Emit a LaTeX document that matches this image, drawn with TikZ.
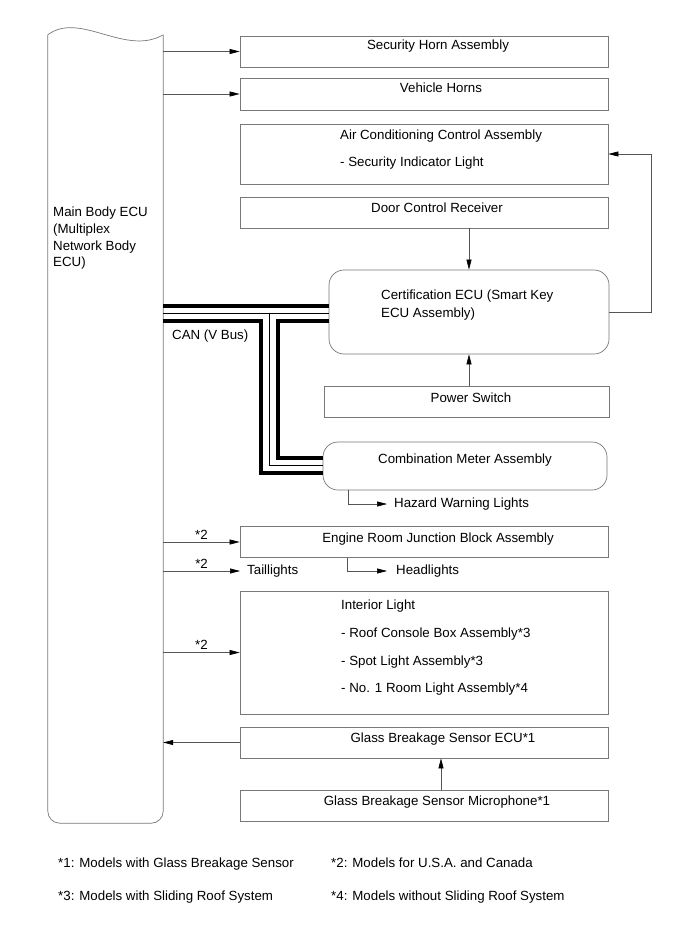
\documentclass[tikz,border=0pt]{standalone}
\usepackage{fontspec}
\setmainfont{Liberation Sans}
\usetikzlibrary{arrows.meta,calc}
\definecolor{EdgeGray}{RGB}{120,120,120}
\definecolor{WireGray}{RGB}{85,85,85}

\begin{document}
\begin{tikzpicture}[x=1pt,y=-1pt,
    ubox/.style={draw=EdgeGray, line width=0.7pt, inner sep=0pt, minimum width=368pt},
    rbox/.style={ubox, rounded corners=15pt},
    farrow/.style={-{Triangle[length=10pt,width=5pt,color=black]}, line width=0.6pt, draw=WireGray},
    txt/.style={inner sep=0pt, anchor=base},
    blk/.style={inner sep=0pt, anchor=north west, align=left},
    tag/.style={inner sep=2.5pt},
    canbus/.style={line width=4pt},
    canwire/.style={line width=0.8pt},
    font=\fontsize{13.3}{16}\selectfont
  ]
    \useasboundingbox (0,0) rectangle (690,952);

    % main body ECU
    \node[inner sep=0pt, minimum width=115pt, minimum height=788pt] (ecu) at (105.5,429) {};
    \draw[draw=EdgeGray, line width=0.7pt, rounded corners=12pt] (ecu.north west) -- (ecu.south west) -- (ecu.south east) -- (ecu.north east);
    \draw[draw=EdgeGray, line width=0.7pt] (ecu.north west) .. controls +(32,-24) and +(-38,22) .. (ecu.north east);
    \node[blk, font=\fontsize{13.3}{16.7}\selectfont] (ecutext) at (53,207) {Main Body ECU\\(Multiplex\\Network Body\\ECU)};

    % boxes on the right
    \node[ubox, minimum height=31pt] (horn) at (424,51.5) {};
    \node[ubox, minimum height=32pt] (vhorn) at (424,94) {};
    \node[ubox, minimum height=60pt] (ac) at (424,154) {};
    \node[ubox, minimum height=31pt] (dcr) at (424,212.5) {};
    \node[rbox, minimum width=280pt, minimum height=84pt] (cert) at (469,312) {};
    \node[ubox, minimum width=285pt, minimum height=31pt] (psw) at (466.5,401.5) {};
    \node[rbox, minimum width=284pt, minimum height=48pt] (meter) at (465,466) {};
    \node[ubox, minimum height=31pt] (eng) at (424,542) {};
    \node[ubox, minimum height=123pt] (int) at (424,652.5) {};
    \node[ubox, minimum height=31pt] (gbs) at (424,742.5) {};
    \node[ubox, minimum height=31pt] (mic) at (424,805.5) {};

    \node[txt] (hornT) at (438,50) {Security Horn Assembly};
    \node[txt] (vhornT) at (441,93) {Vehicle Horns};
    \node[blk, font=\fontsize{13.3}{27}\selectfont] (acT) at (340,130) {Air Conditioning Control Assembly\\- Security Indicator Light};
    \node[txt] (dcrT) at (437,212) {Door Control Receiver};
    \node[blk, font=\fontsize{13.3}{18}\selectfont] (certT) at (381,290) {Certification ECU (Smart Key\\ECU Assembly)};
    \node[txt] (pswT) at (471,402) {Power Switch};
    \node[txt] (meterT) at (465,463) {Combination Meter Assembly};
    \node[txt] (engT) at (438,542) {Engine Room Junction Block Assembly};
    \node[blk, font=\fontsize{13.3}{27.7}\selectfont] (intT) at (341,600) {Interior Light\\- Roof Console Box Assembly*3\\- Spot Light Assembly*3\\- No. 1 Room Light Assembly*4};
    \node[txt] (gbsT) at (443,742) {Glass Breakage Sensor ECU*1};
    \node[txt] (micT) at (437,805) {Glass Breakage Sensor Microphone*1};

    \node[tag, anchor=west, inner xsep=7pt] (tail) at (240,571) {Taillights};
    \node[tag, anchor=west, inner xsep=7pt] (hazard) at (387,504) {Hazard Warning Lights};
    \node[tag, anchor=west, inner xsep=9pt] (head) at (387,571) {Headlights};

    % CAN (V Bus)
    \coordinate (canL) at ($(ecu.east |- cert.west)+(0,1.5)$);
    \coordinate (canR) at ($(cert.west)+(0,1.5)$);
    \coordinate (tap) at ($(canL)+(106.5,0)$);
    \coordinate (canM) at ($(meter.west)+(0,-0.5)$);
    \draw[canbus] ($(canL)+(0,-7.5)$) -- ($(canR)+(0,-7.5)$);
    \draw[canwire] (canL) -- (canR);
    \draw[canwire] (tap) |- (canM);
    \draw[canbus] ($(canL)+(0,7.5)$) -| ($(tap |- canM)+(-8.5,7.5)$) -- ($(canM)+(0,7.5)$);
    \draw[canbus] ($(canR)+(0,7.5)$) -| ($(tap |- canM)+(8.5,-7.5)$) -- ($(canM)+(0,-7.5)$);
    \node[txt, anchor=base west] (can) at (172,339) {CAN (V Bus)};

    % arrows
    \draw[farrow] (ecu.east |- horn.west) -- (horn.west);
    \draw[farrow] (ecu.east |- vhorn.west) -- (vhorn.west);
    \draw[farrow] (cert.east) -- ++(42,0) |- (ac.east);
    \draw[farrow] (dcr.south -| cert.north) -- (cert.north);
    \draw[farrow] (cert.south |- psw.north) -- (cert.south);
    \draw[farrow] ([xshift=26pt]meter.south west) |- (hazard.west);
    \draw[farrow] (ecu.east |- eng.west) -- node[tag, above] (s2a) {*2} (eng.west);
    \draw[farrow] (ecu.east |- tail.west) -- node[tag, above] (s2b) {*2} (tail.west);
    \draw[farrow] ([xshift=108pt]eng.south west) |- (head.west);
    \draw[farrow] (ecu.east |- int.west) -- node[tag, above] (s2c) {*2} (int.west);
    \draw[farrow] (gbs.west) -- (ecu.east |- gbs.west);
    \draw[farrow] ([xshift=17pt]mic.north) -- ([xshift=17pt]gbs.south);

    % notes
    \node[txt, anchor=base west] (fn1) at (58,867) {*1: Models with Glass Breakage Sensor};
    \node[txt, anchor=base west] (fn2) at (331,867) {*2: Models for U.S.A. and Canada};
    \node[txt, anchor=base west] (fn3) at (58,900) {*3: Models with Sliding Roof System};
    \node[txt, anchor=base west] (fn4) at (331,900) {*4: Models without Sliding Roof System};
\end{tikzpicture}
\end{document}
